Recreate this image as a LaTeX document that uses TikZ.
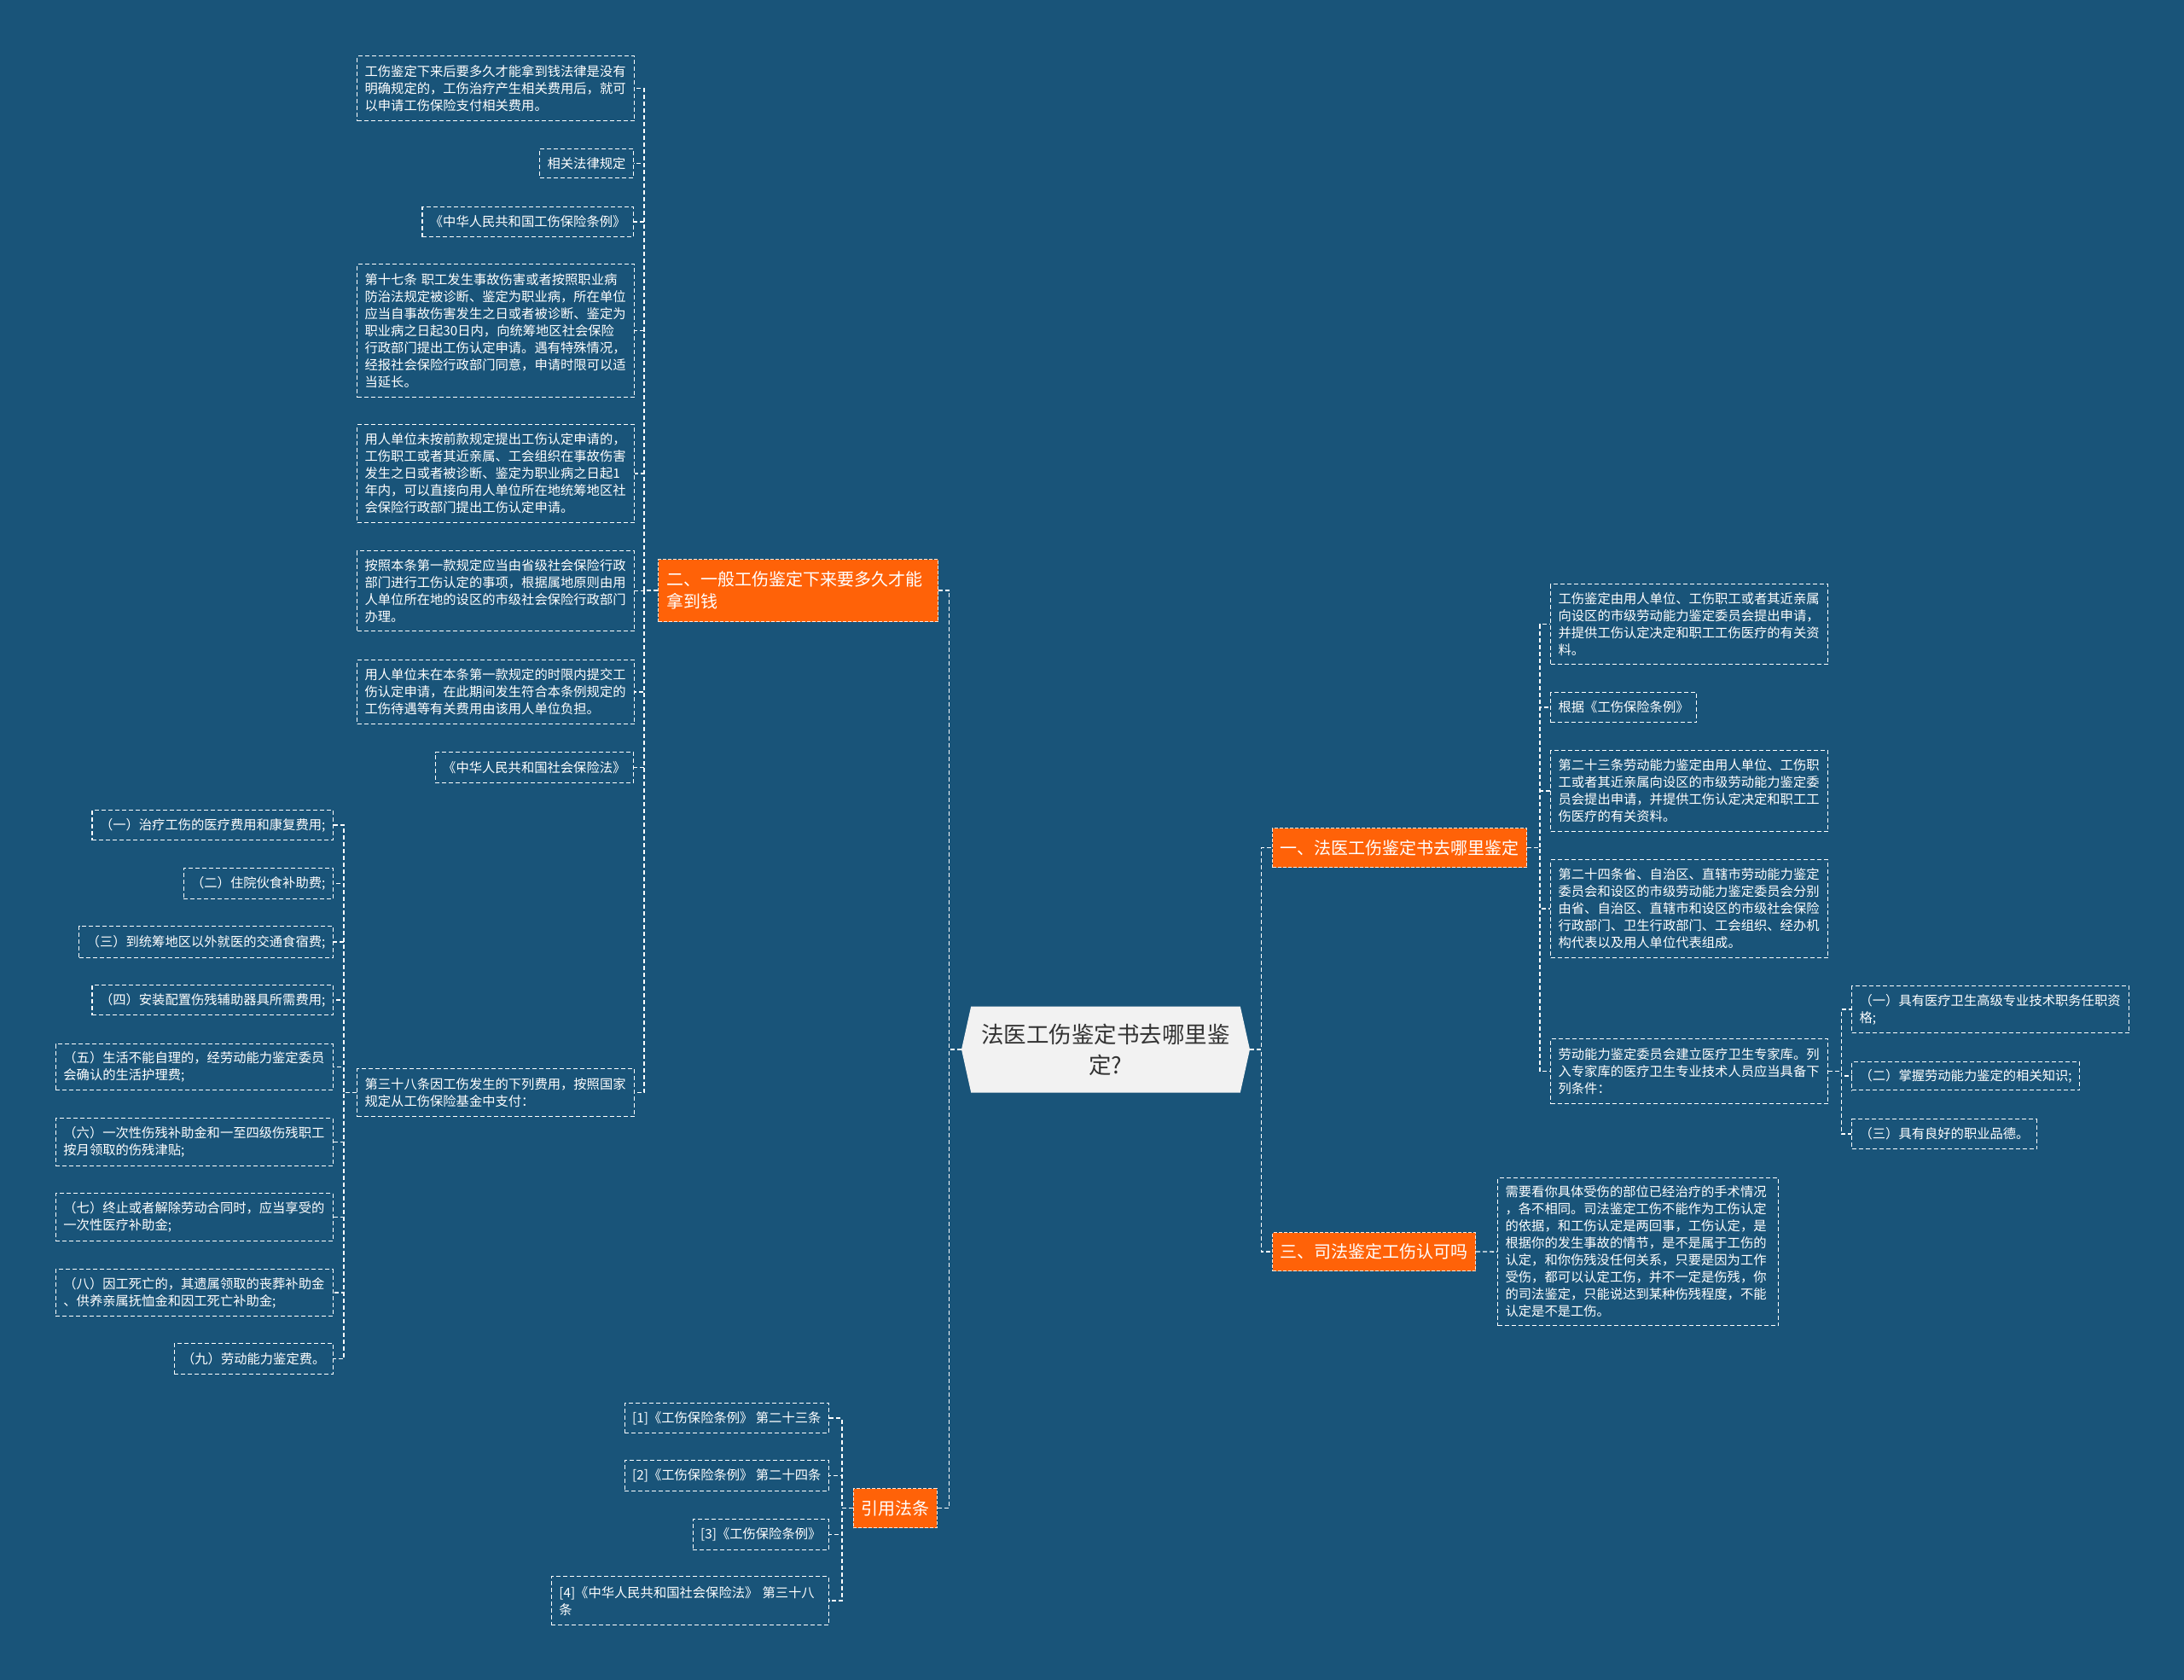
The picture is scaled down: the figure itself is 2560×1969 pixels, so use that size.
\documentclass[tikz,border=0pt]{standalone}
\usepackage{fontspec}
\setmainfont{Noto Sans CJK SC}
\usetikzlibrary{shapes.symbols}
\definecolor{bg}{RGB}{25,84,121}
\definecolor{org}{RGB}{255,98,8}
\definecolor{cfill}{RGB}{242,242,242}
\definecolor{ctext}{RGB}{51,51,51}
\newcommand\leaffont{\fontsize{15.3pt}{20pt}\selectfont}
\newcommand\branchfont{\fontsize{20pt}{26pt}\selectfont}
\newcommand\centerfont{\fontsize{26.5pt}{36pt}\selectfont}
\tikzset{
  leaf/.style={draw=white, line width=1.2pt, dash pattern=on 5pt off 3pt, text=white,
    font=\leaffont, inner xsep=9pt, inner ysep=0pt, align=left},
  leafw/.style={leaf, text width=307pt},
  branch/.style={fill=org, draw=white!85!org, line width=1.1pt, dash pattern=on 4pt off 2pt,
    text=white, font=\branchfont, inner xsep=9pt, inner ysep=0pt, minimum height=46pt, align=left},
  conn/.style={draw=white, line width=1.3pt, dash pattern=on 5pt off 3pt},
  centre/.style={signal, signal to=west and east, signal pointer angle=155, fill=cfill,
    text=ctext, font=\centerfont, align=center, inner sep=0pt}
}
\begin{document}
\begin{tikzpicture}[x=1pt,y=-1pt]
\fill[bg] (0,0) rectangle (2560,1969);
\useasboundingbox (0,0) rectangle (2560,1969);

% centre
\node[centre, minimum width=338pt, minimum height=101pt] (C) at (1296,1230)
  {法医工伤鉴定书去哪里鉴\\定?};

% branches
\node[branch, anchor=north west, text width=308pt, inner xsep=10pt, minimum height=73pt] (N2) at (771,655)
  {二、一般工伤鉴定下来要多久才能\\拿到钱};
\node[branch, anchor=north east] (N4) at (1099,1744) {引用法条};
\node[branch, anchor=north west] (N1) at (1491,970) {一、法医工伤鉴定书去哪里鉴定};
\node[branch, anchor=north west, minimum height=45pt] (N3) at (1491,1444) {三、司法鉴定工伤认可吗};

% left leaves of branch 2
\node[leafw, anchor=north west, minimum height=76pt] (L1) at (418,65)
  {工伤鉴定下来后要多久才能拿到钱法律是没有\\明确规定的，工伤治疗产生相关费用后，就可\\以申请工伤保险支付相关费用。};
\node[leaf, anchor=north east, minimum height=34pt] (L2) at (743,174) {相关法律规定};
\node[leaf, anchor=north east, minimum height=35pt] (L3) at (743,242) {《中华人民共和国工伤保险条例》};
\node[leafw, anchor=north west, minimum height=156pt] (L4) at (418,309)
  {第十七条 职工发生事故伤害或者按照职业病\\防治法规定被诊断、鉴定为职业病，所在单位\\应当自事故伤害发生之日或者被诊断、鉴定为\\职业病之日起30日内，向统筹地区社会保险\\行政部门提出工伤认定申请。遇有特殊情况，\\经报社会保险行政部门同意，申请时限可以适\\当延长。};
\node[leafw, anchor=north west, minimum height=115pt] (L5) at (418,497)
  {用人单位未按前款规定提出工伤认定申请的，\\工伤职工或者其近亲属、工会组织在事故伤害\\发生之日或者被诊断、鉴定为职业病之日起1\\年内，可以直接向用人单位所在地统筹地区社\\会保险行政部门提出工伤认定申请。};
\node[leafw, anchor=north west, minimum height=94pt] (L6) at (418,645)
  {按照本条第一款规定应当由省级社会保险行政\\部门进行工伤认定的事项，根据属地原则由用\\人单位所在地的设区的市级社会保险行政部门\\办理。};
\node[leafw, anchor=north west, minimum height=75pt] (L7) at (418,773)
  {用人单位未在本条第一款规定的时限内提交工\\伤认定申请，在此期间发生符合本条例规定的\\工伤待遇等有关费用由该用人单位负担。};
\node[leaf, anchor=north east, minimum height=36pt] (L8) at (743,881) {《中华人民共和国社会保险法》};
\node[leafw, anchor=north west, minimum height=56pt] (L9) at (418,1252)
  {第三十八条因工伤发生的下列费用，按照国家\\规定从工伤保险基金中支付：};

% children of L9
\node[leaf, anchor=north east, minimum height=35pt] (M1) at (391,949) {（一）治疗工伤的医疗费用和康复费用;};
\node[leaf, anchor=north east, minimum height=36pt] (M2) at (391,1017) {（二）住院伙食补助费;};
\node[leaf, anchor=north east, minimum height=37pt] (M3) at (391,1085) {（三）到统筹地区以外就医的交通食宿费;};
\node[leaf, anchor=north east, minimum height=35pt] (M4) at (391,1154) {（四）安装配置伤残辅助器具所需费用;};
\node[leafw, anchor=north east, minimum height=54pt] (M5) at (391,1223) {（五）生活不能自理的，经劳动能力鉴定委员\\会确认的生活护理费;};
\node[leafw, anchor=north east, minimum height=56pt] (M6) at (391,1310) {（六）一次性伤残补助金和一至四级伤残职工\\按月领取的伤残津贴;};
\node[leafw, anchor=north east, minimum height=56pt] (M7) at (391,1398) {（七）终止或者解除劳动合同时，应当享受的\\一次性医疗补助金;};
\node[leafw, anchor=north east, minimum height=55pt] (M8) at (391,1487) {（八）因工死亡的，其遗属领取的丧葬补助金\\、供养亲属抚恤金和因工死亡补助金;};
\node[leaf, anchor=north east, minimum height=36pt] (M9) at (391,1574) {（九）劳动能力鉴定费。};

% citations
\node[leaf, anchor=north east, minimum height=35pt] (B1) at (972,1644) {[1]《工伤保险条例》 第二十三条};
\node[leaf, anchor=north east, minimum height=36pt] (B2) at (972,1711) {[2]《工伤保险条例》 第二十四条};
\node[leaf, anchor=north east, minimum height=36pt] (B3) at (972,1780) {[3]《工伤保险条例》};
\node[leafw, anchor=north east, minimum height=57pt] (B4) at (972,1847) {[4]《中华人民共和国社会保险法》 第三十八\\条};

% right leaves of branch 1
\node[leafw, anchor=north west, minimum height=94pt] (R1) at (1817,684)
  {工伤鉴定由用人单位、工伤职工或者其近亲属\\向设区的市级劳动能力鉴定委员会提出申请，\\并提供工伤认定决定和职工工伤医疗的有关资\\料。};
\node[leaf, anchor=north west, minimum height=35pt] (R2) at (1817,811) {根据《工伤保险条例》};
\node[leafw, anchor=north west, minimum height=95pt] (R3) at (1817,879)
  {第二十三条劳动能力鉴定由用人单位、工伤职\\工或者其近亲属向设区的市级劳动能力鉴定委\\员会提出申请，并提供工伤认定决定和职工工\\伤医疗的有关资料。};
\node[leafw, anchor=north west, minimum height=115pt] (R4) at (1817,1007)
  {第二十四条省、自治区、直辖市劳动能力鉴定\\委员会和设区的市级劳动能力鉴定委员会分别\\由省、自治区、直辖市和设区的市级社会保险\\行政部门、卫生行政部门、工会组织、经办机\\构代表以及用人单位代表组成。};
\node[leafw, anchor=north west, minimum height=76pt] (R5) at (1817,1217)
  {劳动能力鉴定委员会建立医疗卫生专家库。列\\入专家库的医疗卫生专业技术人员应当具备下\\列条件：};
\node[leafw, anchor=north west, minimum height=55pt] (S1) at (2170,1155)
  {（一）具有医疗卫生高级专业技术职务任职资\\格;};
\node[leaf, anchor=north west, minimum height=33pt] (S2) at (2170,1244) {（二）掌握劳动能力鉴定的相关知识;};
\node[leaf, anchor=north west, minimum height=35pt] (S3) at (2170,1311) {（三）具有良好的职业品德。};

% branch 3 leaf
\node[leaf, anchor=north west, text width=311pt, minimum height=173pt] (T1) at (1755,1380)
  {需要看你具体受伤的部位已经治疗的手术情况\\，各不相同。司法鉴定工伤不能作为工伤认定\\的依据，和工伤认定是两回事，工伤认定，是\\根据你的发生事故的情节，是不是属于工伤的\\认定，和你伤残没任何关系，只要是因为工作\\受伤，都可以认定工伤，并不一定是伤残，你\\的司法鉴定，只能说达到某种伤残程度，不能\\认定是不是工伤。};

% connectors
\draw[conn] (C.west) -- ++(-14,0) |- (N2.east);
\draw[conn] (C.west) -- ++(-14,0) |- (N4.east);
\draw[conn] (C.east) -- ++(13,0) |- (N1.west);
\draw[conn] (C.east) -- ++(13,0) |- (N3.west);
\foreach \c in {L1,L2,L3,L4,L5,L6,L7,L8,L9}
  \draw[conn] (N2.west) -- ++(-16,0) |- (\c.east);
\foreach \c in {M1,M2,M3,M4,M5,M6,M7,M8,M9}
  \draw[conn] (L9.west) -- ++(-15,0) |- (\c.east);
\foreach \c in {B1,B2,B3,B4}
  \draw[conn] (N4.west) -- ++(-13,0) |- (\c.east);
\foreach \c in {R1,R2,R3,R4,R5}
  \draw[conn] (N1.east) -- ++(15,0) |- (\c.west);
\foreach \c in {S1,S2,S3}
  \draw[conn] (R5.east) -- ++(15,0) |- (\c.west);
\draw[conn] (N3.east) -- (T1.west);
\end{tikzpicture}
\end{document}
